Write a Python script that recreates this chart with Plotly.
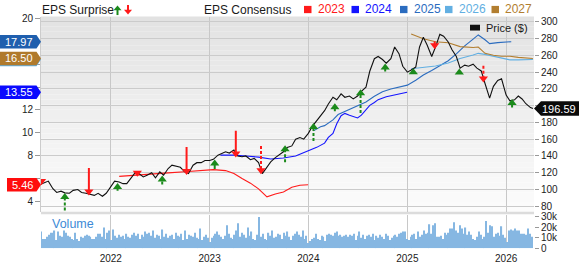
import plotly.graph_objects as go
import pandas as pd

W, H = 579, 264
FONT = "Liberation Sans, Arial, Helvetica, sans-serif"

# ---------------- data ----------------
price_dates = list(pd.date_range('2021-04-15', '2026-04-01', freq='SMS').strftime('%Y-%m-%d')) + ['2026-04-10']
price_2021 = [106, 108, 110, 101, 96.5, 98, 96, 95.5, 99, 100, 96.5, 95.5, 94, 93, 95.5, 92, 95.5]
price_2022 = [103.5, 110, 109, 107, 107, 113, 120, 119, 115, 117, 120, 114, 121, 117, 125, 129,
              128, 126.5, 121, 119, 129, 132, 132, 134.5]
price_2023 = [134.5, 136, 141, 143.5, 145, 143.5, 147, 140, 139, 140, 135.5, 137, 132, 119, 127.5, 133,
              138, 141, 145, 150, 152, 160, 162, 160]
price_2024 = [167, 175, 182, 187, 194, 202, 210, 207, 214, 210, 211.5, 208, 211.5, 217, 222, 241,
              256, 258.6, 255, 250.6, 256, 270, 262, 247]
price_2025 = [240, 242.5, 246, 270, 281.6, 272.4, 258.6, 270, 285, 282.8, 275.9, 266.7, 258.6, 244.8,
              248.3, 247, 249.4, 244.8, 241.4, 226.4, 209, 223, 230, 232]
price_2026 = [212.6, 205.7, 207, 211.5, 208, 202.3, 197.7, 196.59]
price = price_2021 + price_2022 + price_2023 + price_2024 + price_2025 + price_2026

eps23_dates = ['2022-02-01', '2022-04-01', '2022-06-01', '2022-08-01', '2022-10-01', '2022-12-01',
               '2023-01-15', '2023-03-01', '2023-04-01', '2023-05-01', '2023-06-01', '2023-07-01',
               '2023-08-01', '2023-09-01', '2023-10-01', '2023-11-01', '2023-12-01', '2023-12-31']
eps23 = [6.19, 6.27, 6.40, 6.50, 6.60, 6.70, 6.78, 6.70, 6.44, 6.00, 5.60, 5.10, 4.40, 4.66, 4.83,
         5.25, 5.42, 5.46]

eps24_dates = ['2023-02-10', '2023-04-01', '2023-05-15', '2023-07-01', '2023-08-15', '2023-10-01',
               '2023-11-15', '2024-01-01', '2024-02-01', '2024-03-01', '2024-03-15', '2024-04-01',
               '2024-04-15', '2024-05-01', '2024-05-15', '2024-06-01', '2024-06-15', '2024-07-01',
               '2024-07-15', '2024-08-01', '2024-08-15', '2024-09-01', '2024-09-15', '2024-10-15',
               '2024-11-15', '2024-12-15', '2024-12-31']
eps24 = [8.05, 8.05, 7.97, 7.88, 7.71, 7.80, 7.97, 8.39, 8.73, 9.10, 9.60, 9.95, 10.8, 11.5, 11.7,
         11.53, 11.4, 11.3, 11.55, 12.06, 12.4, 12.65, 12.9, 13.16, 13.33, 13.5, 13.55]

eps25_dates = ['2024-01-20', '2024-02-15', '2024-03-01', '2024-04-01', '2024-04-20', '2024-06-01',
               '2024-07-01', '2024-08-01', '2024-09-01', '2024-10-01', '2024-11-01', '2024-12-01',
               '2025-01-01', '2025-02-01', '2025-03-01', '2025-04-01', '2025-05-01', '2025-06-01',
               '2025-07-01', '2025-08-01', '2025-09-01', '2025-09-20', '2025-10-15', '2025-11-01',
               '2025-12-01', '2026-01-20']
eps25 = [10.17, 10.54, 10.63, 11.13, 11.6, 12.06, 12.35, 12.7, 13.2, 13.6, 13.83, 14.0, 14.17, 14.6,
         15.05, 15.45, 15.85, 16.3, 16.9, 17.6, 18.2, 18.56, 18.14, 17.8, 17.89, 17.97]

eps26_dates = ['2025-01-15', '2025-03-01', '2025-04-15', '2025-06-01', '2025-07-15', '2025-09-01',
               '2025-09-20', '2025-10-15', '2025-11-15', '2025-12-15', '2026-01-15', '2026-02-15',
               '2026-04-10']
eps26 = [15.6, 15.7, 15.85, 16.1, 16.5, 16.8, 16.95, 16.86, 16.7, 16.5, 16.38, 16.38, 16.41]

eps27_dates = ['2025-01-15', '2025-03-01', '2025-04-15', '2025-06-01', '2025-07-15', '2025-09-01',
               '2025-09-20', '2025-10-15', '2025-11-15', '2025-12-15', '2026-01-15', '2026-02-15',
               '2026-04-10']
eps27 = [18.64, 18.22, 17.97, 17.88, 17.54, 17.46, 17.5, 16.95, 16.78, 16.7, 16.7, 16.6, 16.5]

# EPS surprise arrows: report date, price at arrow tip, price at shaft end, dashed shaft
arrow_dates = ['2021-04-20', '2021-07-15', '2021-10-12', '2022-01-26', '2022-04-09', '2022-07-10',
               '2022-10-08', '2023-01-20', '2023-04-08', '2023-07-10', '2023-10-07', '2024-01-20',
               '2024-04-08', '2024-07-12', '2024-10-11', '2025-01-23', '2025-04-12', '2025-07-12',
               '2025-10-09', '2026-01-23']
arrow_tip = [106, 95, 93.5, 107, 116, 116, 118, 135, 139, 119, 152, 178.5, 202, 218.8, 249.5, 244,
             268, 243.5, 228.3, 207.3]
arrow_tail = [110, 75, 125.5, 98.4, 123.2, 106, 150.8, 124.3, 170, 152, 132.4, 157.7, 193.4, 191.1,
              240.7, 238.4, 276.4, 238, 247.6, 197.7]
arrow_dashed = [False, True, False, False, False, True, False, False, False, True, True, True, True,
                True, True, False, False, False, True, False]

# weekly volume (thousands)
vol_2021 = [16, 9, 9, 11, 13, 15, 15, 17, 8, 16, 12, 11, 17, 15, 12, 11, 9, 8, 15, 9, 7, 11, 10, 12,
            13, 12, 11, 9, 9, 11, 14, 14, 11, 20, 9, 15, 17]
vol_2022 = [8, 18, 12, 10, 13, 11, 12, 9, 14, 11, 10, 13, 15, 12, 14, 9, 13, 11, 16, 14, 15, 12, 17,
            10, 13, 12, 9, 18, 11, 14, 10, 12, 13, 9, 15, 12, 11, 14, 8, 17, 9, 13, 12, 11, 15, 10,
            9, 19, 8, 11, 13, 10]
vol_2023 = [6, 10, 12, 14, 16, 13, 11, 9, 12, 22, 14, 10, 9, 13, 17, 24, 11, 15, 13, 10, 20, 12, 16,
            9, 8, 13, 30, 11, 14, 9, 8, 15, 12, 17, 10, 11, 14, 13, 9, 15, 12, 16, 11, 8, 12, 14, 16,
            13, 11, 17, 9, 12]
vol_2024 = [5, 7, 9, 10, 14, 9, 8, 12, 11, 7, 13, 14, 13, 12, 15, 16, 12, 13, 11, 12, 13, 11, 13, 12,
            14, 8, 12, 16, 10, 13, 9, 12, 13, 11, 14, 8, 12, 10, 13, 11, 9, 14, 12, 8, 10, 12, 13,
            11, 14, 15, 16, 16, 9]
vol_2025 = [8, 11, 13, 14, 9, 16, 11, 13, 17, 14, 15, 23, 14, 22, 24, 11, 11, 12, 9, 15, 13, 15, 19,
            19, 25, 17, 15, 22, 19, 14, 20, 13, 16, 13, 9, 8, 11, 16, 13, 9, 11, 26, 15, 22, 21, 11,
            14, 15, 12, 21, 13, 10]
vol_2026 = [6, 17, 18, 17, 19, 17, 17, 14, 14, 14, 13, 19, 14, 11]

year_ticks = ['2022-01-01', '2023-01-01', '2024-01-01', '2025-01-01', '2026-01-01']
year_labels = ['2022', '2023', '2024', '2025', '2026']
price_ticks = [80, 100, 120, 140, 160, 180, 200, 220, 240, 260, 280, 300]
price_tick_text = ['80', '100', '120', '140', '160', '180', '', '220', '240', '260', '280', '300']
eps_ticks = [4, 6, 8, 10, 12, 14, 16, 18, 20]
eps_tick_text = ['4', '', '8', '10', '12', '', '', '', '20']
vol_ticks = [0, 10, 20, 30]
vol_tick_text = ['0', '10k', '20k', '30k']
legend_years = ['2023', '2024', '2025', '2026', '2027']

# ---------------- styling / layout geometry ----------------
C23, C24, C25, C26, C27 = '#ff1a1a', '#1414ff', '#2b6cbf', '#62afe2', '#b27e30'
GREEN, RED = '#1b8a1b', '#ff1a1a'
X0, X1 = 41, 534
MAIN_TOP, MAIN_BOT = 14, 216
VOL_TOP, VOL_BOT = 219, 254
price_range = [73.6, 306.3]
eps_range = [3.11, 20.17]
vol_range = [0, 32.3]
x_range = ['2021-04-18', '2026-04-14']
PRICE_PER_PX = (price_range[1] - price_range[0]) / (MAIN_BOT - MAIN_TOP)
EPS_PER_PX = (eps_range[1] - eps_range[0]) / (MAIN_BOT - MAIN_TOP)


def px(x):
    return x / W


def py(y):
    return 1 - y / H


vol_dates, vol = [], []
for start, arr in [('2021-04-19', vol_2021), ('2022-01-03', vol_2022), ('2023-01-02', vol_2023),
                   ('2024-01-01', vol_2024), ('2025-01-06', vol_2025), ('2026-01-05', vol_2026)]:
    vol_dates += list(pd.date_range(start, periods=len(arr), freq='W-MON'))
    vol += arr

fig = go.Figure()

# volume
fig.add_trace(go.Bar(x=vol_dates, y=vol, xaxis='x', yaxis='y3', marker_color='#86b7e2',
                     marker_line_width=0, width=4.2 * 86400000, hoverinfo='skip'))

# EPS consensus lines (left axis)
for d, v, c in [(eps23_dates, eps23, C23), (eps24_dates, eps24, C24), (eps25_dates, eps25, C25),
                (eps26_dates, eps26, C26), (eps27_dates, eps27, C27)]:
    fig.add_trace(go.Scatter(x=d, y=v, xaxis='x2', yaxis='y', mode='lines',
                             line=dict(color=c, width=1.1), hoverinfo='skip'))

# price (right axis)
fig.add_trace(go.Scatter(x=price_dates, y=price, xaxis='x2', yaxis='y2', mode='lines',
                         line=dict(color='#111111', width=1.1), hoverinfo='skip'))

# surprise arrows
HEAD = 7
off = 0.5 * HEAD * PRICE_PER_PX
groups = {}
heads = {'up': ([], []), 'down': ([], [])}
for d, tip, tail, dash in zip(arrow_dates, arrow_tip, arrow_tail, arrow_dashed):
    up = tail < tip
    center = tip - off if up else tip + off
    key = ('up' if up else 'down', dash)
    gx, gy = groups.setdefault(key, ([], []))
    if abs(tail - center) > off:
        gx += [d, d, None]
        gy += [tail, center, None]
    hx, hy = heads['up' if up else 'down']
    hx.append(d)
    hy.append(center)
for (direction, dash), (gx, gy) in groups.items():
    fig.add_trace(go.Scatter(x=gx, y=gy, xaxis='x2', yaxis='y2', mode='lines',
                             line=dict(color=GREEN if direction == 'up' else RED, width=2,
                                       dash='3px,2px' if dash else 'solid'),
                             hoverinfo='skip'))
for direction, (hx, hy) in heads.items():
    fig.add_trace(go.Scatter(x=hx, y=hy, xaxis='x2', yaxis='y2', mode='markers',
                             marker=dict(symbol='triangle-up' if direction == 'up' else 'triangle-down',
                                         size=HEAD + 1, color=GREEN if direction == 'up' else RED,
                                         line=dict(width=0)),
                             hoverinfo='skip'))

shapes = []
# gradient background of main panel
N = 40
for i in range(N):
    y0 = MAIN_TOP + (MAIN_BOT - MAIN_TOP) * i / N
    y1 = MAIN_TOP + (MAIN_BOT - MAIN_TOP) * (i + 1) / N
    g = int(round(226 + (252 - 226) * (i + 0.5) / N))
    shapes.append(dict(type='rect', xref='paper', yref='paper', x0=px(X0), x1=px(X1), y0=py(y1), y1=py(y0),
                       fillcolor=f'rgb({g},{g},{g})', line=dict(width=0), layer='below'))
# separator band between panels
shapes.append(dict(type='rect', xref='paper', yref='paper', x0=px(X0), x1=px(X1), y0=py(218.7), y1=py(216.2),
                   fillcolor='#dcdcdc', line=dict(width=0), layer='below'))

annotations = []


def badge_left(value, color, yref, per_px, left=0, label=True):
    hh = 7 * per_px
    x0, x1, xt = px(left), px(36.5), px(41)
    shapes.append(dict(type='path', xref='paper', yref=yref,
                       path=f'M {x0},{value - hh} L {x1},{value - hh} L {xt},{value} L {x1},{value + hh} L {x0},{value + hh} Z',
                       fillcolor=color, line=dict(width=0), layer='above'))
    if label:
        annotations.append(dict(xref='paper', yref=yref, x=(x0 + x1) / 2 + px(1), y=value, text=f'{value:.2f}',
                                showarrow=False, font=dict(family=FONT, size=11, color='white'),
                                xanchor='center', yanchor='middle'))


# 2026 badge sits underneath the 2027 badge (only a sliver shows)
badge_left(eps26[-1], C26, 'y', EPS_PER_PX, label=False)
badge_left(eps27[-1], '#b07a2c', 'y', EPS_PER_PX)
badge_left(eps25[-1], '#1f5fae', 'y', EPS_PER_PX)
badge_left(eps24[-1], '#0a0aff', 'y', EPS_PER_PX)
badge_left(eps23[-1], '#ff0d0d', 'y', EPS_PER_PX, left=7)

# price badge on the right
pv = price[-1]
hh = 7.5 * PRICE_PER_PX
shapes.append(dict(type='path', xref='paper', yref='y2',
                   path=f'M {px(534)},{pv} L {px(541)},{pv + hh} L {px(579)},{pv + hh} L {px(579)},{pv - hh} L {px(541)},{pv - hh} Z',
                   fillcolor='#0a0a0a', line=dict(width=0), layer='above'))
annotations.append(dict(xref='paper', yref='y2', x=px(559), y=pv, text=f'{pv:.2f}', showarrow=False,
                        font=dict(family=FONT, size=11, color='white'), xanchor='center', yanchor='middle'))

# top legend row
annotations.append(dict(xref='paper', yref='paper', x=px(40), y=py(7), text='EPS Surprise', showarrow=False,
                        font=dict(family=FONT, size=12, color='#1a1a1a'), xanchor='left', yanchor='middle'))
# small arrow icons
shapes.append(dict(type='path', xref='paper', yref='paper',
                   path=f'M {px(113.5)},{py(7.5)} L {px(121.5)},{py(7.5)} L {px(117.5)},{py(2.5)} Z',
                   fillcolor=GREEN, line=dict(width=0)))
shapes.append(dict(type='rect', xref='paper', yref='paper', x0=px(116.5), x1=px(118.5), y0=py(12.5), y1=py(7.2),
                   fillcolor=GREEN, line=dict(width=0)))
shapes.append(dict(type='path', xref='paper', yref='paper',
                   path=f'M {px(124)},{py(7)} L {px(132)},{py(7)} L {px(128)},{py(12)} Z',
                   fillcolor=RED, line=dict(width=0)))
shapes.append(dict(type='rect', xref='paper', yref='paper', x0=px(127), x1=px(129), y0=py(7.3), y1=py(2),
                   fillcolor=RED, line=dict(width=0)))

annotations.append(dict(xref='paper', yref='paper', x=px(202), y=py(7), text='EPS Consensus', showarrow=False,
                        font=dict(family=FONT, size=12, color='#1a1a1a'), xanchor='left', yanchor='middle'))
legend_sq_x = [304, 351.5, 400, 445, 491.5]
for lbl, c, sx in zip(legend_years, [C23, C24, C25, C26, C27], legend_sq_x):
    shapes.append(dict(type='rect', xref='paper', yref='paper', x0=px(sx), x1=px(sx + 7.5), y0=py(10.5), y1=py(3),
                       fillcolor=c, line=dict(width=0)))
    annotations.append(dict(xref='paper', yref='paper', x=px(sx + 11.5), y=py(6.5), text=lbl, showarrow=False,
                            font=dict(family=FONT, size=12, color=c), xanchor='left', yanchor='middle'))

# Price legend inside plot
shapes.append(dict(type='rect', xref='paper', yref='paper', x0=px(470), x1=px(480), y0=py(28.5), y1=py(22.5),
                   fillcolor='#111111', line=dict(width=0)))
annotations.append(dict(xref='paper', yref='paper', x=px(484), y=py(25.5), text='Price ($)', showarrow=False,
                        font=dict(family=FONT, size=11, color='#1a1a1a'), xanchor='left', yanchor='middle'))

# Volume label
annotations.append(dict(xref='paper', yref='paper', x=px(50), y=py(229), text='Volume', showarrow=False,
                        font=dict(family=FONT, size=12.5, color='#3d8ad6'), xanchor='left', yanchor='middle'))

tickfont = dict(family=FONT, size=10, color='#222222')
fig.update_layout(
    width=W, height=H, margin=dict(l=0, r=0, t=0, b=0),
    paper_bgcolor='white', plot_bgcolor='rgba(0,0,0,0)', showlegend=False,
    font=dict(family=FONT),
    xaxis=dict(domain=[px(X0), px(X1)], range=x_range, type='date', anchor='y3',
               tickvals=year_ticks, ticktext=year_labels, showgrid=True, gridcolor='#c8c8c8', gridwidth=1,
               ticks='', ticklabelstandoff=3, tickfont=tickfont, showline=False, zeroline=False),
    xaxis2=dict(domain=[px(X0), px(X1)], range=x_range, type='date', anchor='y', matches='x',
                tickvals=year_ticks, showticklabels=False, showgrid=True, gridcolor='#c8c8c8', gridwidth=1,
                ticks='', showline=False, zeroline=False),
    yaxis=dict(domain=[py(MAIN_BOT), py(MAIN_TOP)], range=eps_range, side='left', anchor='x2',
               tickvals=eps_ticks, ticktext=eps_tick_text, ticks='outside', ticklen=5, tickcolor='#999999',
               showgrid=False, zeroline=False, tickfont=tickfont, showline=True, linecolor='#cccccc'),
    yaxis2=dict(overlaying='y', side='right', anchor='x2', range=price_range, tickvals=price_ticks,
                ticktext=price_tick_text,
                showgrid=True, gridcolor='#cbcbcb', gridwidth=1, ticks='outside', ticklen=4,
                tickcolor='#999999', zeroline=False, tickfont=tickfont, showline=False),
    yaxis3=dict(domain=[py(VOL_BOT), py(VOL_TOP)], range=vol_range, side='right', anchor='x',
                tickvals=vol_ticks, ticktext=vol_tick_text, ticks='outside', ticklen=4, tickcolor='#999999',
                showgrid=False, zeroline=False, tickfont=tickfont, showline=False),
    shapes=shapes, annotations=annotations,
)

fig.write_html('out.html')
